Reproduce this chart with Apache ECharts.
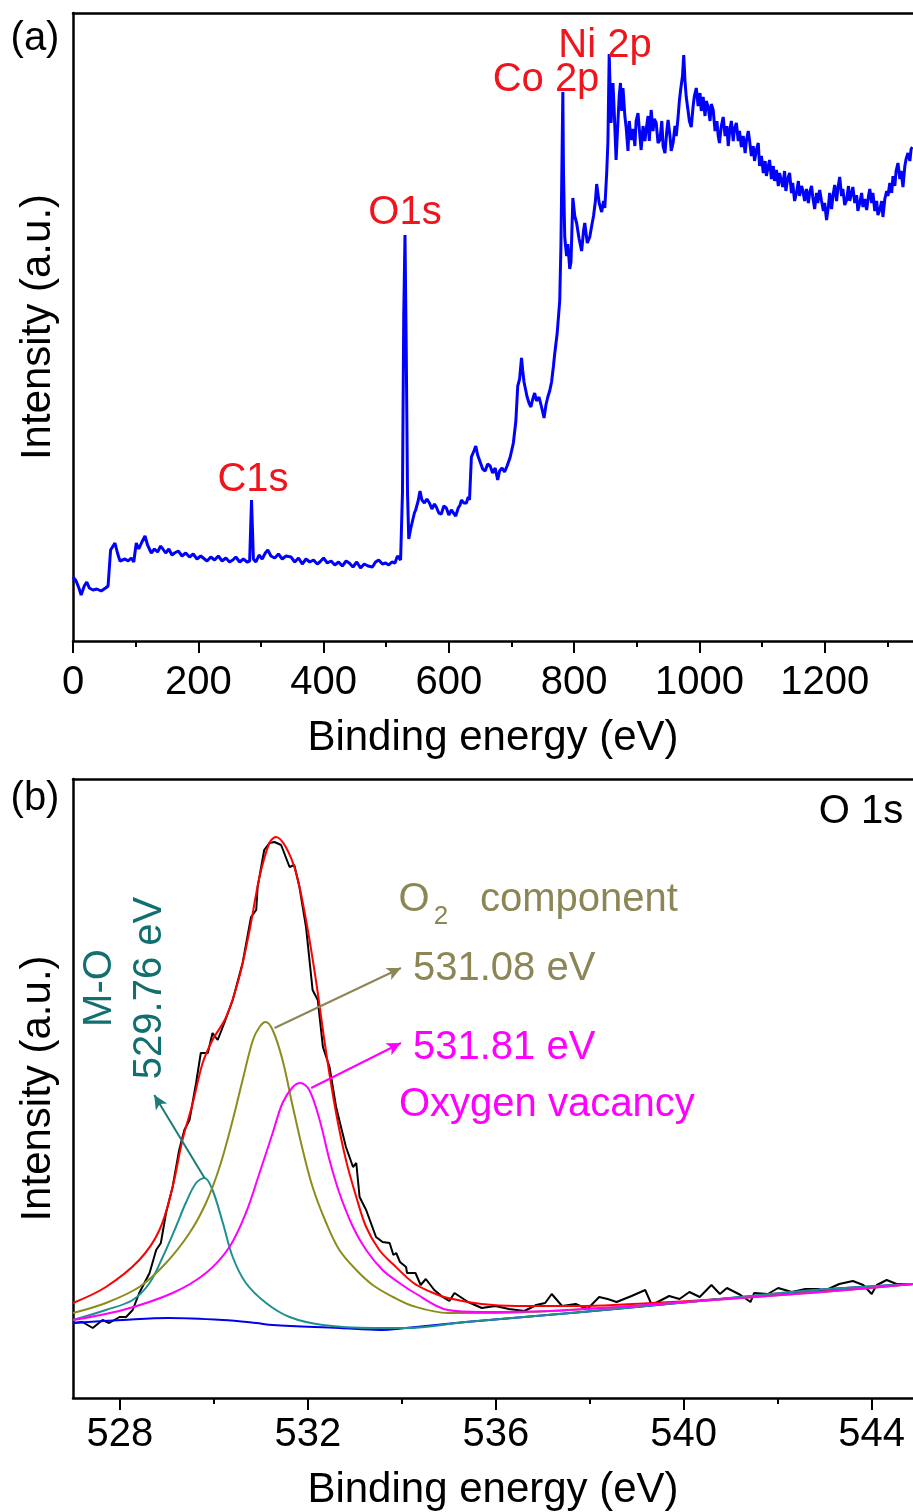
<!DOCTYPE html>
<html>
<head>
<meta charset="utf-8">
<title>XPS survey and O 1s</title>
<script src="https://cdn.jsdelivr.net/npm/echarts@6.0.0/dist/echarts.min.js"></script>
<style>
  html, body { margin: 0; padding: 0; background: #fff; }
  #chart { width: 913px; height: 1512px; }
</style>
</head>
<body>
<div id="chart"></div>
<script>
// (a) survey spectrum: [binding energy eV, intensity a.u.]
const survey = [
  [0,64],[5,60],[10,52],[13,46],[18,55],[22,59],[26,53],[32,51],[38,52],[45,50],[52,53],
  [56,55],[60,91],[64,95],[67,98],[71,88],[75,80],[78,79],[83,82],[88,80],[93,83],[97,79],
  [101,98],[105,92],[110,99],[115,105],[119,96],[125,88],[130,92],[135,89],[140,95],
  [143,93],[148,88],[153,92],[158,86],[162,88],[168,90],[174,85],[180,88],[186,84],
  [192,87],[198,82],[204,85],[208,83],[214,80],[220,84],[226,81],[232,85],[238,80],
  [244,83],[250,79],[255,81],[260,84],[266,79],[272,82],[278,79],[282,80],[285,141],
  [288,82],[292,79],[297,86],[302,82],[307,88],[311,91],[316,85],[322,83],[328,87],
  [334,82],[340,85],[348,84],[354,79],[360,83],[366,77],[372,82],[378,79],[384,81],
  [390,77],[394,79],[400,83],[406,78],[412,80],[418,76],[424,79],[430,75],[436,80],
  [441,78],[447,74],[453,79],[459,73],[465,77],[471,75],[478,74],[483,79],[488,81],
  [494,77],[499,78],[504,76],[509,79],[514,78],[518,85],[523,81],[526,149],[528,326],
  [530,406],[532,291],[534,149],[536,102],[539,112],[542,120],[545,128],[547,131],
  [551,140],[554,150],[557,141],[561,138],[565,142],[569,138],[573,132],[577,137],
  [580,134],[584,128],[588,127],[592,135],[596,133],[600,126],[604,131],[607,129],
  [611,125],[615,133],[618,136],[620,141],[624,138],[628,138],[631,144],[633,141],
  [636,184],[640,190],[643,195],[646,186],[650,179],[654,172],[658,170],[662,177],
  [666,175],[670,168],[674,173],[678,161],[681,170],[685,173],[689,169],[693,175],
  [698,184],[703,198],[707,220],[710,255],[713,262],[716,283],[718,270],[720,259],
  [723,250],[725,244],[728,238],[731,234],[734,242],[737,248],[740,240],[744,244],
  [748,234],[752,223],[755,236],[758,244],[761,250],[764,259],[767,275],[769,287],
  [773,308],[777,340],[779,397],[782,549],[783,470],[785,404],[788,385],[790,397],
  [793,372],[795,379],[798,443],[801,425],[804,418],[808,402],[812,390],[815,410],
  [817,418],[821,398],[825,404],[828,415],[831,425],[834,440],[836,457],[840,438],
  [844,429],[847,440],[849,433],[852,468],[854,500],[856,587],[858,540],[859,518],
  [862,558],[864,530],[867,481],[870,520],[872,545],[874,558],[876,530],[878,553],
  [881,525],[883,514],[886,490],[888,520],[891,501],[894,512],[897,495],[899,520],
  [902,528],[905,505],[907,491],[910,515],[913,500],[915,511],[918,525],[920,500],
  [923,531],[926,510],[928,522],[931,518],[934,498],[937,501],[940,520],[942,495],
  [945,488],[948,510],[950,521],[953,505],[955,490],[958,498],[961,515],[963,505],
  [966,524],[968,540],[970,551],[973,565],[975,586],[977,560],[979,544],[982,530],
  [984,520],[987,514],[990,535],[992,545],[995,553],[998,535],[1001,548],[1003,530],
  [1006,544],[1009,525],[1011,540],[1014,534],[1017,520],[1019,537],[1022,531],
  [1025,510],[1028,520],[1030,505],[1032,498],[1035,515],[1038,524],[1041,505],
  [1044,515],[1046,495],[1048,508],[1051,520],[1054,500],[1056,512],[1059,518],
  [1062,500],[1064,510],[1067,494],[1070,505],[1073,488],[1075,500],[1078,510],
  [1080,501],[1083,485],[1086,495],[1088,480],[1091,491],[1094,498],[1096,475],
  [1099,485],[1102,468],[1105,480],[1107,465],[1110,475],[1112,481],[1115,462],
  [1118,475],[1120,460],[1123,471],[1126,455],[1128,468],[1131,460],[1133,454],
  [1136,470],[1138,450],[1141,462],[1144,468],[1147,448],[1149,458],[1152,440],
  [1155,448],[1158,460],[1160,445],[1163,455],[1165,451],[1168,440],[1171,452],
  [1174,438],[1176,448],[1179,455],[1181,444],[1184,432],[1187,448],[1189,438],
  [1192,451],[1195,440],[1198,430],[1200,438],[1203,421],[1206,435],[1208,448],
  [1211,432],[1213,444],[1216,456],[1219,440],[1221,452],[1224,464],[1227,445],
  [1229,452],[1232,436],[1235,441],[1238,455],[1240,440],[1243,448],[1245,454],
  [1248,438],[1251,446],[1253,430],[1256,438],[1259,448],[1261,434],[1264,442],
  [1267,431],[1270,445],[1272,452],[1275,438],[1277,448],[1280,430],[1283,440],
  [1285,426],[1288,431],[1291,440],[1293,424],[1296,442],[1299,450],[1301,445],
  [1304,458],[1307,448],[1309,465],[1312,455],[1314,470],[1317,478],[1320,462],
  [1322,470],[1325,454],[1328,475],[1330,482],[1333,488],[1336,480],[1338,492],
  [1340,494]
];
const surveyTicks = [0, 200, 400, 600, 800, 1000, 1200];
const surveyMinor = [100, 300, 500, 700, 900, 1100, 1300];

// (b) O 1s high resolution
const o1sRaw = [
  [527.0,75],[527.2,76],[527.42,70],[527.63,78],[527.77,75],[527.99,81],[528.13,81],
  [528.27,88],[528.41,105],[528.63,125],[528.77,148],[528.87,155],[528.98,185],
  [529.12,211],[529.26,248],[529.37,268],[529.48,278],[529.62,315],[529.72,345],
  [529.87,345],[529.97,365],[530.08,358],[530.22,375],[530.4,398],[530.61,435],
  [530.79,481],[530.9,488],[530.93,511],[531.07,548],[531.18,555],[531.29,556],
  [531.43,553],[531.61,531],[531.71,533],[531.82,511],[531.96,471],[532.1,408],
  [532.21,398],[532.32,351],[532.46,331],[532.6,291],[532.81,251],[532.96,231],
  [533.03,235],[533.1,201],[533.24,188],[533.45,161],[533.59,156],[533.74,155],
  [533.82,143],[533.88,145],[533.96,136],[534.09,131],[534.11,125],[534.29,125],
  [534.4,113],[534.51,119],[534.69,108],[534.87,101],[535.01,97],[535.12,105],
  [535.41,96],[535.7,90],[535.99,92],[536.28,89],[536.61,87],[536.86,93],[537.05,95],
  [537.19,104],[537.41,92],[537.7,94],[537.95,89],[538.2,101],[538.38,99],[538.57,96],
  [538.89,102],[539.18,108],[539.32,93],[539.69,102],[539.91,99],[540.12,106],
  [540.34,101],[540.59,113],[540.77,104],[540.92,110],[541.21,103],[541.42,96],
  [541.5,105],[541.79,104],[542.01,110],[542.3,106],[542.59,109],[542.88,109],
  [542.94,106],[543.31,114],[543.6,117],[543.82,113],[544.0,104],[544.11,113],
  [544.32,118],[544.53,114],[544.88,114]
];
const o1sEnvelope = [
  [527.0,95],[527.7,111],[528.41,138],[528.84,168],[529.12,211],[529.33,258],
  [529.55,295],[529.76,335],[529.97,358],[530.26,381],[530.54,421],[530.76,468],
  [530.97,521],[531.18,555],[531.32,561],[531.53,551],[531.75,525],[531.96,478],
  [532.17,418],[532.39,345],[532.6,285],[532.81,238],[533.03,201],[533.24,171],
  [533.52,148],[533.81,134],[534.25,115],[534.62,106],[534.98,100],[535.7,94],
  [536.43,92],[537.88,92],[539.32,95],[540.77,99],[542.22,104],[543.67,109],[544.88,114]
];
const o1sLattice = [ // M-O, 529.76 eV
  [527.0,78],[527.7,88],[528.27,98],[528.63,115],[528.91,141],[529.19,171],[529.4,195],
  [529.62,215],[529.8,220],[529.97,208],[530.19,175],[530.4,141],[530.68,115],
  [531.11,95],[531.61,81],[532.32,73],[533.38,70],[534.09,70],[535.36,76],[537.84,86],
  [540.32,97],[542.8,108],[544.88,114]
];
const o1sO2 = [ // O2 component, 531.08 eV
  [527.0,85],[527.7,95],[528.41,111],[528.98,135],[529.48,165],[529.83,195],
  [530.12,231],[530.4,278],[530.61,318],[530.83,358],[530.97,371],[531.1,376],
  [531.25,368],[531.46,338],[531.68,291],[531.89,248],[532.1,211],[532.39,175],
  [532.67,148],[533.03,128],[533.38,113],[533.81,101],[534.23,92],[534.98,85],
  [535.7,85],[537.15,87],[538.6,91],[540.05,96],[541.5,101],[542.94,106],[544.88,114]
];
const o1sVacancy = [ // oxygen vacancy, 531.81 eV
  [527.0,78],[528.06,88],[529.12,105],[529.83,125],[530.33,151],[530.68,185],
  [530.97,225],[531.25,265],[531.46,295],[531.68,311],[531.84,315],[532.03,308],
  [532.25,278],[532.46,238],[532.67,205],[532.96,171],[533.24,148],[533.59,128],
  [533.95,115],[534.24,106],[534.98,88],[535.7,86],[537.15,87],[538.6,91],[540.05,96],
  [541.5,101],[542.94,106],[544.88,114]
];
const o1sBackground = [
  [527.0,75],[528.06,78],[529.04,80],[530.19,78],[530.9,75],[531.25,73],[532.67,70],
  [533.53,68],[534.09,70],[535.36,76],[536.6,81],[537.84,86],[539.0,91],[540.32,97],
  [541.5,102],[542.8,108],[544.88,114]
];
const o1sTicks = [528, 532, 536, 540, 544];
const o1sMinor = [530, 534, 538, 542];

const FONT = '"Liberation Sans", Arial, sans-serif';

function bottomAxis(grid, min, max, ticks, margin, gap) {
  return {
    type: 'value', gridIndex: grid, position: 'bottom', min: min, max: max,
    name: 'Binding energy (eV)', nameLocation: 'middle', nameGap: gap,
    nameTextStyle: { fontFamily: FONT, fontSize: 42, color: '#000' },
    axisLine: { onZero: false, lineStyle: { color: '#000', width: 2.5 } },
    axisTick: { customValues: ticks, length: 12, lineStyle: { color: '#000', width: 2 } },
    axisLabel: {
      customValues: ticks, margin: margin, fontFamily: FONT, fontSize: 40, color: '#000',
      formatter: (v) => String(v)
    },
    splitLine: { show: false }
  };
}
function minorAxis(grid, min, max, ticks) {
  return {
    type: 'value', gridIndex: grid, position: 'bottom', min: min, max: max,
    axisLine: { show: false, onZero: false },
    axisTick: { customValues: ticks, length: 6, lineStyle: { color: '#000', width: 2 } },
    axisLabel: { show: false }, splitLine: { show: false }
  };
}
function topAxis(grid, min, max) {
  return {
    type: 'value', gridIndex: grid, position: 'top', min: min, max: max,
    axisLine: { onZero: false, lineStyle: { color: '#000', width: 2.5 } },
    axisTick: { show: false }, axisLabel: { show: false }, splitLine: { show: false }
  };
}
function leftAxis(grid, max) {
  return {
    type: 'value', gridIndex: grid, min: 0, max: max,
    name: 'Intensity (a.u.)', nameLocation: 'middle', nameGap: 14,
    nameTextStyle: { fontFamily: FONT, fontSize: 42, color: '#000' },
    axisLine: { show: true, onZero: false, lineStyle: { color: '#000', width: 2.5 } },
    axisTick: { show: false }, axisLabel: { show: false }, splitLine: { show: false }
  };
}
function curve(data, color, width, xi, yi, z, smooth) {
  return {
    type: 'line', data: data, xAxisIndex: xi, yAxisIndex: yi, z: z || 2,
    showSymbol: false, symbol: 'none', smooth: smooth || false,
    lineStyle: { color: color, width: width }
  };
}
function arrow(from, to, color) {
  return {
    silent: true, symbol: ['none', 'arrow'], symbolSize: [10, 14],
    label: { show: false },
    lineStyle: { color: color, width: 2, type: 'solid' },
    data: [[{ coord: from }, { coord: to }]]
  };
}
function label(text, x, y, color, opts) {
  return Object.assign({
    type: 'text', x: x, y: y, z: 100,
    style: { text: text, fill: color, font: '40px ' + FONT, textAlign: 'center', textVerticalAlign: 'middle' }
  }, opts || {});
}
function leftLabel(text, x, y, color, size) {
  return {
    type: 'text', x: x, y: y, z: 100,
    style: { text: text, fill: color, font: (size || 40) + 'px ' + FONT, textAlign: 'left', textVerticalAlign: 'middle' }
  };
}

const OLIVE_TXT = '#8c8656';
const TEAL_TXT = '#136f6f';
const RED_TXT = '#f0141c';
const MAGENTA = '#ff00ff';

const chart = echarts.init(document.getElementById('chart'), null, { renderer: 'canvas' });

const lattice = curve(o1sLattice, '#1f9090', 2, 3, 1, 4, 0.35);
lattice.markLine = arrow([529.8, 220], [528.73, 303], '#1f7a7a');
const o2 = curve(o1sO2, '#8c8c1e', 2, 3, 1, 4, 0.35);
o2.markLine = arrow([531.29, 370], [533.98, 430], OLIVE_TXT);
const vac = curve(o1sVacancy, MAGENTA, 2, 3, 1, 4, 0.35);
vac.markLine = arrow([532.07, 310], [533.98, 355], MAGENTA);

chart.setOption({
  animation: false,
  backgroundColor: '#fff',
  grid: [
    { left: 73, right: 0, top: 13, bottom: 871 },
    { left: 73, right: 0, top: 779, bottom: 114 }
  ],
  xAxis: [
    bottomAxis(0, 0, 1341, surveyTicks, 22, 76),
    minorAxis(0, 0, 1341, surveyMinor),
    topAxis(0, 0, 1341),
    bottomAxis(1, 527, 544.88, o1sTicks, 17, 71),
    minorAxis(1, 527, 544.88, o1sMinor),
    topAxis(1, 527, 544.88)
  ],
  yAxis: [leftAxis(0, 628), leftAxis(1, 619)],
  series: [
    curve(survey, '#0000ff', 3, 0, 0),
    curve(o1sRaw, '#000000', 2, 3, 1, 2),
    curve(o1sEnvelope, '#ff0000', 2, 3, 1, 3, 0.35),
    lattice, o2, vac,
    curve(o1sBackground, '#0000ee', 2, 3, 1, 3, 0.35)
  ],
  graphic: [
    label('(a)', 35, 39, '#000'),
    label('(b)', 35, 799, '#000'),
    label('Ni 2p', 605, 46, RED_TXT),
    label('Co 2p', 546, 80, RED_TXT),
    label('O1s', 405, 213, RED_TXT),
    label('C1s', 253, 480, RED_TXT),
    label('O 1s', 861, 812, '#000'),
    label('O', 414, 900, OLIVE_TXT),
    label('2', 441, 917, OLIVE_TXT, { style: { text: '2', fill: OLIVE_TXT, font: '26px ' + FONT, textAlign: 'center', textVerticalAlign: 'middle' } }),
    leftLabel('component', 480, 900, OLIVE_TXT),
    leftLabel('531.08 eV', 413, 969, OLIVE_TXT),
    leftLabel('531.81 eV', 413, 1048, MAGENTA),
    leftLabel('Oxygen vacancy', 399, 1105, MAGENTA),
    label('M-O', 100, 988, TEAL_TXT, { rotation: Math.PI / 2 }),
    label('529.76 eV', 150, 988, TEAL_TXT, { rotation: Math.PI / 2 })
  ]
});
</script>
</body>
</html>
